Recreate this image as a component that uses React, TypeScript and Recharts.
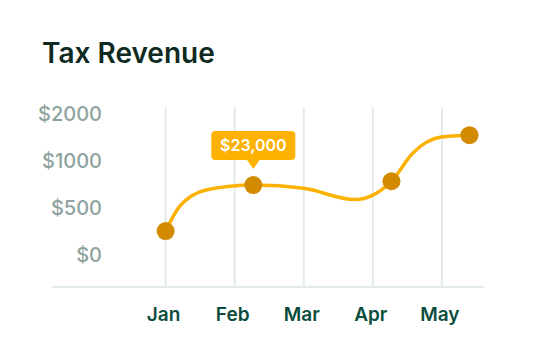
import { LineChart, Line, XAxis, YAxis, CartesianGrid } from 'recharts';

const months = ['Jan', 'Feb', 'Mar', 'Apr', 'May'];
const yLabels = ['$0', '$500', '$1000', '$2000'];

// x in month steps (0 = Jan), y in tick steps (0 = $0 ... 3 = $2000)
const pointX = [0, 0.2, 0.6, 1.27, 2.0, 2.74, 3.27, 3.58, 3.99, 4.4];
const pointY = [0.51, 1.03, 1.39, 1.49, 1.42, 1.18, 1.57, 2.17, 2.51, 2.55];
const showDot = [true, false, false, true, false, false, true, false, false, true];

const calloutIndex = 3;
const calloutText = '$23,000';

const data = pointX.map((x, i) => ({ x, y: pointY[i], dot: showDot[i] }));

const X_DOMAIN: [number, number] = [-1.645, 4.61];
const X_TICKS = [0, 1, 2, 3, 4];

const FONT = 'Inter, "Noto Sans", sans-serif';

function YTick({ y, payload }: any) {
  return (
    <text x={94} y={y} dy="0.36em" textAnchor="end" fill="#8fa39e" fontSize={20} fontWeight={500} fontFamily={FONT}>
      {yLabels[payload.value]}
    </text>
  );
}

function XTick({ x, y, payload }: any) {
  return (
    <text x={x - 2} y={y} dy="0.71em" textAnchor="middle" fill="#0b4d3d" fontSize={19} fontWeight={600} fontFamily={FONT}>
      {months[payload.value]}
    </text>
  );
}

function Dot({ cx, cy, payload, index }: any) {
  if (!payload.dot) return <g key={`d-${index}`} />;
  return <circle key={`d-${index}`} cx={cx} cy={cy} r={9} fill="#d28b00" />;
}

function Callout({ x, y, index }: any) {
  if (index !== calloutIndex) return null;
  const w = 84;
  const h = 29;
  const top = y - 54;
  return (
    <g>
      <rect x={x - w / 2} y={top} width={w} height={h} rx={4} fill="#fdb100" />
      <path d={`M${x - 7},${top + h - 1} L${x + 7},${top + h - 1} L${x},${top + h + 9} Z`} fill="#fdb100" />
      <text x={x} y={top + h / 2} dy="0.36em" textAnchor="middle" fill="#fff" fontSize={16} fontWeight={600} fontFamily={FONT}>
        {calloutText}
      </text>
    </g>
  );
}

// only the month ticks get a grid line, not the plot edges
const gridX = ({ offset }: any) =>
  X_TICKS.map((v) => offset.left + (offset.width * (v - X_DOMAIN[0])) / (X_DOMAIN[1] - X_DOMAIN[0]));

export default function App() {
  return (
    <div style={{ position: 'relative', width: 528, height: 352, fontFamily: FONT }}>
      <div
        style={{
          position: 'absolute',
          left: 34,
          top: 31,
          fontSize: 28,
          lineHeight: '28px',
          fontWeight: 600,
          color: '#0f2a22',
        }}
      >
        Tax Revenue
      </div>
      <LineChart width={528} height={352} data={data} margin={{ top: 99, right: 52, bottom: 33, left: 0 }}>
        <CartesianGrid horizontal={false} stroke="#e3ebe9" strokeWidth={2} verticalCoordinatesGenerator={gridX} />
        <XAxis
          dataKey="x"
          type="number"
          domain={X_DOMAIN}
          ticks={X_TICKS}
          tick={<XTick />}
          tickLine={false}
          tickSize={0}
          tickMargin={21}
          axisLine={{ stroke: '#e3ebe9', strokeWidth: 2 }}
          height={40}
          allowDataOverflow
        />
        <YAxis
          type="number"
          domain={[-0.68, 3.15]}
          ticks={[0, 1, 2, 3]}
          tick={<YTick />}
          axisLine={false}
          tickLine={false}
          width={44}
          allowDataOverflow
        />
        <Line
          dataKey="y"
          type="monotone"
          stroke="#fbb100"
          strokeWidth={3.5}
          dot={<Dot />}
          activeDot={false}
          label={<Callout />}
          isAnimationActive={false}
        />
      </LineChart>
    </div>
  );
}
